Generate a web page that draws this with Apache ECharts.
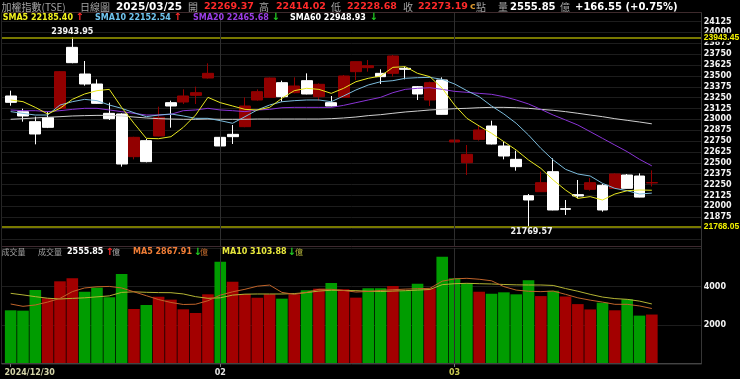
<!DOCTYPE html>
<html><head><meta charset="utf-8">
<script src="https://cdn.jsdelivr.net/npm/echarts@6/dist/echarts.min.js"></script>
<style>html,body{margin:0;padding:0;background:#000;}#c{width:740px;height:379px;}</style>
</head><body><div id="c"></div>
<script>
// ---------- DATA ----------
const dates = ['2024/12/30','2024/12/31','2025/01/02','2025/01/03','2025/01/06','2025/01/07','2025/01/08','2025/01/09','2025/01/10','2025/01/13','2025/01/14','2025/01/15','2025/01/16','2025/01/17','2025/01/20','2025/01/21','2025/01/22',
'2025/02/03','2025/02/04','2025/02/05','2025/02/06','2025/02/07','2025/02/10','2025/02/11','2025/02/12','2025/02/13','2025/02/14','2025/02/17','2025/02/18','2025/02/19','2025/02/20','2025/02/21','2025/02/24','2025/02/25','2025/02/26','2025/02/27',
'2025/03/03','2025/03/04','2025/03/05','2025/03/06','2025/03/07','2025/03/10','2025/03/11','2025/03/12','2025/03/13','2025/03/14','2025/03/17','2025/03/18','2025/03/19','2025/03/20','2025/03/21','2025/03/24','2025/03/25'];
const opens  = [23268.7,23088.6,22973.7,23019.6,23126.9,23828.0,23521.5,23406.6,23069.4,23061.8,22571.4,22755.3,22808.9,23192.0,23199.7,23276.3,23475.5,
22793.6,22828.0,22916.2,23222.7,23253.3,23421.9,23307.0,23445.0,23261.0,23192.0,23253.3,23548.4,23594.3,23529.2,23529.2,23586.7,23376.0,23222.7,23452.6,
22739.9,22502.4,22770.6,22923.9,22694.0,22540.7,22123.0,22169.0,22399.0,21974.0,22134.6,22195.9,22242.0,22207.4,22360.6,22349.0,22269.37];
const closes = [23195.9,23038.8,22831.9,22908.5,23548.4,23651.8,23406.6,23184.4,23008.0,22487.0,22793.6,22513.9,23023.4,23153.7,23268.7,23307.0,23529.2,
22694.0,22801.2,23153.7,23318.5,23475.5,23261.0,23383.6,23291.7,23402.8,23153.7,23498.5,23663.3,23617.3,23490.9,23728.4,23575.2,23291.7,23421.9,23058.0,
22762.9,22598.2,22877.9,22717.0,22579.0,22456.4,22073.3,22272.5,21958.4,21966.0,22119.3,22272.5,21958.4,22372.2,22207.4,22106.64,22273.19];
const lows   = [23157.5,22973.7,22713.0,22900.0,23120.0,23645.0,23387.4,23180.0,22992.8,22456.4,22540.7,22506.2,22805.0,22904.7,23176.7,23176.7,23470.0,
22502.4,22717.0,22910.0,23215.0,23250.0,23203.6,23300.0,23288.0,23215.0,23150.0,23250.0,23452.6,23548.4,23406.6,23490.9,23460.0,23222.7,23153.7,23055.0,
22609.7,22360.6,22755.3,22712.0,22540.7,22410.4,21769.57,22165.0,21955.0,21901.0,22092.5,22180.5,21939.0,22205.0,22205.0,22104.0,22228.68];
const highs  = [23330.0,23123.0,23031.0,23088.6,23556.0,23943.95,23671.0,23460.0,23192.0,23069.0,22800.0,22774.4,23146.0,23215.0,23345.3,23376.0,23644.0,
22795.0,22935.3,23253.3,23345.0,23480.0,23445.0,23483.0,23529.0,23414.0,23268.7,23510.0,23665.0,23682.5,23575.0,23740.0,23605.8,23383.6,23433.0,23483.0,
22774.4,22705.5,22935.3,22985.0,22743.8,22640.4,22142.2,22399.0,22552.2,22073.0,22303.0,22326.0,22257.0,22380.0,22372.0,22380.0,22414.02];
const sma5  = [23222.7,23203.6,23138,23062,23127,23230,23292,23330,23345,23138,22955,22782,22778,22801,22908,23050,23253,23192,23154,23115,23108,23138,23242,23330,23357,23345,23299,23357,23433,23472,23498,23598,23606,23529,23491,23357,23165,23012,22924,22840,22744,22648,22533,22437,22303,22188,22092,22112,22073,22142,22180,22188,22185.40];
const sma10 = [23089,23069,23050,23050,23165,23203,23230,23215,23165,23127,23077,23031,23050,23062,23039,23012,23012,22985,22955,23031,23108,23165,23203,23215,23223,23223,23203,23269,23338,23395,23433,23445,23472,23479,23483,23460,23407,23330,23261,23154,23062,22955,22820,22667,22533,22426,22372,22349,22265,22207,22180,22142,22152.54];
const sma20 = [23108,23100,23100,23089,23100,23115,23127,23127,23108,23089,23069,23050,23050,23058,23100,23108,23127,23108,23100,23089,23108,23115,23134,23138,23138,23138,23138,23161,23192,23223,23253,23307,23345,23357,23364,23345,23322,23311,23299,23288,23261,23223,23177,23115,23050,22993,22935,22859,22782,22705,22629,22541,22465.68];
const sma60 = [23001,23008,23016,23024,23031,23039,23043,23046,23046,23039,23027,23016,23008,23004,23001,23001,23004,23001,23001,23001,23004,23004,23004,23004,23004,23004,23008,23016,23027,23043,23054,23070,23085,23096,23108,23115,23123,23127,23134,23138,23138,23134,23127,23115,23104,23089,23070,23050,23031,23008,22989,22970,22948.93];
const maArrows = ['↑','↑','↓','↓'];
const volumes = [2774,2757,3825,3394,4273,4428,3739,3946,3446,4652,2843,3050,3480,3325,2826,2636,3601,5290,4256,3618,3429,3601,3377,3601,3808,3894,4187,3859,3429,3911,3911,4032,3773,4152,3911,5548,4428,4170,3739,3635,3704,3601,4325,3510,3785,3490,3095,2820,3170,2775,3340,2500,2555.85];
const volUp = [0,0,0,1,1,1,0,0,0,0,1,0,1,1,1,1,1,0,1,1,1,1,0,1,0,1,0,1,1,0,0,1,0,0,1,0,0,0,1,0,0,0,0,1,0,1,1,1,0,1,0,0,1];
const volMA5 = [3101,2980,3050,3200,3390,3740,3930,3990,4010,3930,3730,3530,3330,3180,3075,3090,3270,3560,3730,3860,4020,4080,3700,3600,3700,3859,3860,3800,3720,3750,3800,3840,3870,3890,3910,4280,4400,4428,4380,4300,4000,3820,3760,3740,3770,3600,3420,3300,3200,3084,3084,3000,2867.91];
const volMA10 = [3653,3570,3480,3400,3360,3390,3420,3470,3520,3700,3730,3705,3690,3685,3620,3480,3394,3420,3560,3610,3618,3618,3618,3640,3690,3770,3810,3800,3790,3760,3745,3770,3790,3820,3850,4100,4150,4170,4150,4135,4110,4090,4083,4083,4060,3900,3760,3600,3460,3380,3342,3250,3103.88];
const volArrows = ['↑','↓','↓'];
const rangeLines = [23943.45, 21768.05];
const priceTickStart = 21625, priceTickStep = 125;
const volTickLabels = [2000, 4000];
const tickDates = ['2024/12/30','2025/02/03','2025/03/03'];
const tickTexts = ['2024/12/30','02','03'];
const monthLineDates = ['2025/02/03','2025/03/03'];

// ---------- LAYOUT ----------
const PX = 10.875/125, REFY = 21.5, REFV = 24125;
const TOP = 12.7, SEP = 246.7, VTOP = 247.9, BOT = 364;
const priceMax = REFV + (REFY - TOP)/PX;
const bgBottom = REFY + (REFV - priceTickStart)*PX;
const dataMin = REFV - (SEP - REFY)/PX;
const DL = 4.5, DW = 653.5, BL = 1.5, BW = 700.2;
const RED = '#920000', WHITE = '#ffffff';
const lbl = {fontFamily:'DejaVu Sans', fontWeight:'bold', fontSize:8};
const last = closes.length - 1;

const chart = echarts.init(document.getElementById('c'), null, {renderer:'canvas'});

// header text segments
const G = '#a4a4a4', CJK = '"Noto Sans CJK TC"', DV = '"DejaVu Sans"';
const segs = [];
function seg(t, x, y, fill, font){ segs.push({type:'text', x:x, y:y, silent:true, z:100, style:{text:t, fill:fill, font:font, verticalAlign:'middle'}}); }
const Y1 = 7, Y2 = 17.8, Y3 = 252.2;
const chg = closes[last]-closes[last-1], pct = chg/closes[last-1]*100;
const UPC = '#ff2a2a', DNC = '#22d022', AF = 'bold 10px '+DV;
seg('加權指數(TSE)', 1.5, Y1, G, '10px '+CJK);
seg('日線圖', 80, Y1, G, '10px '+CJK);
seg(dates[last], 116, Y1, '#ffffff', 'bold 10.5px '+DV);
seg('開', 188, Y1, G, '10px '+CJK); seg(opens[last].toFixed(2), 204, Y1, UPC, 'bold 9.5px '+DV);
seg('高', 259, Y1, G, '10px '+CJK); seg(highs[last].toFixed(2), 276, Y1, UPC, 'bold 9.5px '+DV);
seg('低', 331, Y1, G, '10px '+CJK); seg(lows[last].toFixed(2), 347, Y1, UPC, 'bold 9.5px '+DV);
seg('收', 403, Y1, G, '10px '+CJK); seg(closes[last].toFixed(2), 418, Y1, UPC, 'bold 9.5px '+DV);
seg('c', 470, Y1, '#d8962e', 'bold 9.5px '+DV);
seg('點', 476, Y1, G, '10px '+CJK);
seg('量', 498, Y1, G, '10px '+CJK); seg(volumes[last].toFixed(2), 510, Y1, '#ffffff', 'bold 10px '+DV);
seg('億', 560, Y1, G, '10px '+CJK);
seg((chg>=0?'+':'')+chg.toFixed(2)+' ('+(pct>=0?'+':'')+pct.toFixed(2)+'%)', 575, Y1, '#ffffff', 'bold 10px '+DV);
const maInfo = [['SMA5 ',sma5,'#f2f21e',2.7,75.5],['SMA10 ',sma10,'#70c4ee',95,173.5],['SMA20 ',sma20,'#9a3ee6',193,271.5],['SMA60 ',sma60,'#ffffff',290,369.5]];
maInfo.forEach((m,i)=>{
  seg(m[0]+m[1][last].toFixed(2), m[3], Y2, m[2], 'bold 8px '+DV);
  seg(maArrows[i], m[4], Y2, maArrows[i]==='↑'?UPC:DNC, AF);
});
seg('成交量', 1.5, Y3, G, '8px '+CJK);
seg('成交量', 38, Y3, G, '8px '+CJK);
seg(volumes[last].toFixed(2), 67, Y3, '#ffffff', 'bold 8px '+DV);
seg(volArrows[0], 105.5, Y3, UPC, AF);
seg('億', 112, Y3, G, '8px '+CJK);
seg('MA5 '+volMA5[last].toFixed(2), 133, Y3, '#f27e36', 'bold 8px '+DV);
seg(volArrows[1], 193.5, Y3, DNC, AF);
seg('億', 200, Y3, '#c06a2c', '8px '+CJK);
seg('MA10 '+volMA10[last].toFixed(2), 222, Y3, '#e8e83c', 'bold 8px '+DV);
seg(volArrows[2], 287.5, Y3, DNC, AF);
seg('億', 295, Y3, '#b4b43a', '8px '+CJK);

function ln(x1,y1,x2,y2,c){ segs.push({type:'line', silent:true, z:50, shape:{x1:x1,y1:y1,x2:x2,y2:y2}, style:{stroke:c, lineWidth:1}}); }
ln(1.5, 12.5, 701.5, 12.5, '#3e2a2c');
ln(1.5, 246.5, 701.5, 246.5, '#3e2a30');
ln(1.5, 12.5, 1.5, 364, '#262626');
ln(701.5, 12.5, 701.5, 364, '#363636');
ln(1.5, 363.5, 701.5, 363.5, '#444444');

const hiIdx = highs.indexOf(Math.max(...highs));
const loIdx = lows.indexOf(Math.min(...lows));
const monthMark = {symbol:['none','none'], silent:true, label:{show:false}, lineStyle:{color:'#2e2e2e', width:1, type:'solid'}, data: monthLineDates.map(d=>({xAxis:d}))};
const thinLine = (name, data, color, xi, yi) => ({name:name, type:'line', xAxisIndex:xi, yAxisIndex:yi, data:data, showSymbol:false, symbol:'none', smooth:false, lineStyle:{color:color, width:1}, z:5});

const option = {
  backgroundColor:'#000',
  animation:false,
  grid:[
    {left:BL, top:TOP, width:BW, height:bgBottom-TOP},
    {left:DL, top:TOP, width:DW, height:SEP-TOP},
    {left:BL, top:VTOP, width:BW, height:BOT-VTOP},
    {left:DL, top:VTOP, width:DW, height:BOT-VTOP}
  ],
  xAxis:[
    {type:'value', gridIndex:0, min:0, max:1, show:false},
    {type:'category', gridIndex:1, data:dates, show:false},
    {type:'value', gridIndex:2, min:0, max:1, show:false},
    {type:'category', gridIndex:3, data:dates,
      axisLine:{show:false},
      axisTick:{show:true, alignWithLabel:true, length:3, lineStyle:{color:'#777'}, interval:(i,v)=>tickDates.indexOf(v)>=0},
      axisLabel:{show:true, margin:5, interval:(i,v)=>tickDates.indexOf(v)>=0,
        formatter:(v)=>{const k=tickDates.indexOf(v); if(k<0) return ''; return k===0?'{f|'+tickTexts[k]+'}':(k===1?'{m|'+tickTexts[k]+'}':'{y|'+tickTexts[k]+'}');},
        rich:{
          f:{fontFamily:'DejaVu Sans', fontWeight:'bold', fontSize:8, color:'#d4d4a8', width:12.33, align:'left'},
          m:{fontFamily:'DejaVu Sans', fontWeight:'bold', fontSize:8, color:'#e4e4e4'},
          y:{fontFamily:'DejaVu Sans', fontWeight:'bold', fontSize:8, color:'#c8c850'}
        }},
      splitLine:{show:false}}
  ],
  yAxis:[
    {type:'value', gridIndex:0, position:'right', min:priceTickStart, max:priceMax, interval:priceTickStep,
      axisLine:{show:false}, axisTick:{show:false},
      splitLine:{show:true, lineStyle:{color:'#1d1d1d', width:1}},
      axisLabel:Object.assign({color:'#f4f4f4', margin:2, showMinLabel:true, showMaxLabel:true,
        formatter:(v)=>{ if(Math.abs(v/priceTickStep-Math.round(v/priceTickStep))>1e-6) return ''; if(v<=priceTickStart) return ''; return String(Math.round(v)); }}, lbl)},
    {type:'value', gridIndex:1, min:dataMin, max:priceMax, show:false},
    {type:'value', gridIndex:2, position:'right', min:0, max:6000, interval:2000,
      axisLine:{show:false}, axisTick:{show:false},
      splitLine:{show:true, lineStyle:{color:'#1d1d1d', width:1}},
      axisLabel:Object.assign({color:'#f4f4f4', margin:2, formatter:(v)=>volTickLabels.indexOf(v)>=0?String(v):''}, lbl)},
    {type:'value', gridIndex:3, min:0, max:6000, show:false}
  ],
  series:[
    {type:'line', xAxisIndex:0, yAxisIndex:0, data:[], z:3,
      markLine:{symbol:['none','none'], silent:true, precision:2,
        lineStyle:{color:'#a2a200', width:1.5, type:'solid'},
        label:{show:true, position:'end', distance:2, formatter:(p)=>Number(p.value).toFixed(2), color:'#f2f200', fontFamily:'Liberation Sans', fontWeight:'bold', fontSize:8.5, backgroundColor:'#000', padding:[0,1,0,0]},
        data: rangeLines.map(v=>({yAxis:v}))}},
    {type:'line', xAxisIndex:1, yAxisIndex:1, data:[], z:1, markLine:monthMark},
    {type:'candlestick', xAxisIndex:1, yAxisIndex:1, barWidth:'92%', z:3,
      data: dates.map((d,i)=>[opens[i], closes[i], lows[i], highs[i]]),
      itemStyle:{color:RED, color0:WHITE, borderColor:RED, borderColor0:WHITE, borderWidth:1},
      markPoint:{symbol:'rect', symbolSize:1, silent:true, itemStyle:{color:'rgba(0,0,0,0)'},
        data:[
          {coord:[dates[hiIdx], highs[hiIdx]], value:highs[hiIdx], label:{position:'top', distance:1}},
          {coord:[dates[loIdx], lows[loIdx]], value:lows[loIdx], label:{position:'bottom', distance:1, offset:[3,0]}}
        ],
        label:{show:true, formatter:(p)=>Number(p.value).toFixed(2), color:'#f0f0f0', fontFamily:'DejaVu Sans', fontWeight:'bold', fontSize:8}}},
    thinLine('SMA60', sma60, '#cfcfcf', 1, 1),
    thinLine('SMA20', sma20, '#8a34d6', 1, 1),
    thinLine('SMA10', sma10, '#7cbcdc', 1, 1),
    thinLine('SMA5', sma5, '#e8e820', 1, 1),
    {type:'line', xAxisIndex:3, yAxisIndex:3, data:[], z:1, markLine:monthMark},
    {type:'bar', xAxisIndex:3, yAxisIndex:3, barWidth:'94%', z:3,
      data: volumes.map((v,i)=>({value:v, itemStyle:{color: volUp[i] ? '#a30000' : '#009c00'}}))},
    thinLine('VMA10', volMA10, '#b4b434', 3, 3),
    thinLine('VMA5', volMA5, '#c0642a', 3, 3)
  ],
  graphic: segs
};
chart.setOption(option);
</script>
</body></html>
